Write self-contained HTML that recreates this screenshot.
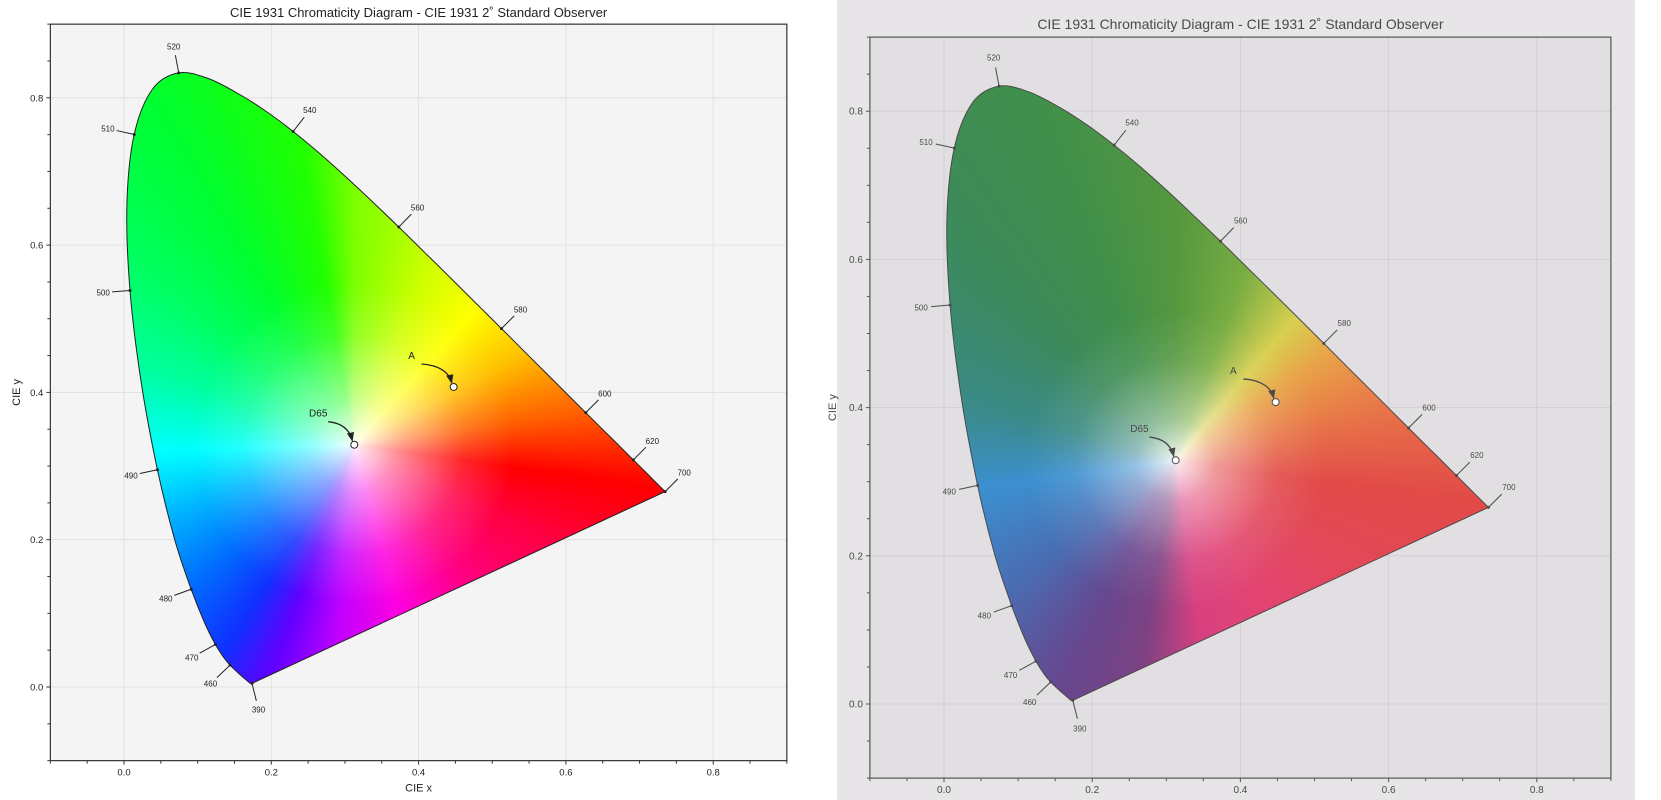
<!DOCTYPE html>
<html><head><meta charset="utf-8">
<style>
html,body{margin:0;padding:0;background:#fff;}
#root{position:relative;width:1661px;height:800px;overflow:hidden;background:#fff;font-family:"Liberation Sans","DejaVu Sans",sans-serif;}
.abs{position:absolute;left:0;top:0;}
</style></head>
<body>
<div id="root">
  <div class="abs" style="left:837px;top:0;width:798px;height:800px;background:#e7e5e7;"></div>
</div>
<script>
// ---- data ----
const wavelengths = [380,390,400,420,430,440,450,460,465,470,475,480,485,490,495,500,505,510,515,520,525,530,535,540,545,550,555,560,565,570,575,580,585,590,595,600,605,610,620,630,640,650,660,680,700];
const locusX = [0.1741,0.1738,0.1733,0.1714,0.1689,0.1644,0.1566,0.1440,0.1355,0.1241,0.1096,0.0913,0.0687,0.0454,0.0235,0.0082,0.0039,0.0139,0.0389,0.0743,0.1142,0.1547,0.1929,0.2296,0.2658,0.3016,0.3373,0.3731,0.4087,0.4441,0.4788,0.5125,0.5448,0.5752,0.6029,0.6270,0.6482,0.6658,0.6915,0.7079,0.7190,0.7260,0.7300,0.7334,0.7347];
const locusY = [0.0050,0.0049,0.0048,0.0051,0.0069,0.0109,0.0177,0.0297,0.0399,0.0578,0.0868,0.1327,0.2007,0.2950,0.4127,0.5384,0.6548,0.7502,0.8120,0.8338,0.8262,0.8059,0.7816,0.7543,0.7243,0.6923,0.6589,0.6245,0.5896,0.5547,0.5202,0.4866,0.4544,0.4242,0.3965,0.3725,0.3514,0.3340,0.3083,0.2920,0.2809,0.2740,0.2700,0.2666,0.2653];
const labelWavelengths = [390,460,470,480,490,500,510,520,540,560,580,600,620,700];
const illumNames = ["D65","A"];
const illumX = [0.3127,0.4476];
const illumY = [0.3290,0.4074];
const xTicks = [0.0,0.2,0.4,0.6,0.8];
const yTicks = [0.0,0.2,0.4,0.6,0.8];
const xTickLabels = ["0.0","0.2","0.4","0.6","0.8"];
const yTickLabels = ["0.0","0.2","0.4","0.6","0.8"];

const NS="http://www.w3.org/2000/svg";
const root=document.getElementById('root');

function panel(c){
  const X=v=>c.ox+v*c.s, Y=v=>c.oy-v*c.s;
  const L=X(-0.1), R=X(0.9), T=Y(0.9), B=Y(-0.1);
  function mkSvg(name){
    const s=document.createElementNS(NS,'svg');
    s.setAttribute('width',1661);s.setAttribute('height',800);
    s.setAttribute('class','abs');
    
    
    s.style.fontFamily='"Liberation Sans","DejaVu Sans",sans-serif';
    root.appendChild(s);return s;
  }
  function el(t,a,p){const e=document.createElementNS(NS,t);for(const k in a)e.setAttribute(k,a[k]);p.appendChild(e);return e;}
  // background + grid layer
  const bgs=mkSvg(c.pre+'plot-area');
  el('rect',{x:L,y:T,width:R-L,height:B-T,fill:c.plotBg},bgs);
  xTicks.forEach(v=>{const g=el('line',{x1:X(v),x2:X(v),y1:T,y2:B,stroke:c.grid,'stroke-width':0.8},bgs);});
  yTicks.forEach(v=>{const g=el('line',{x1:L,x2:R,y1:Y(v),y2:Y(v),stroke:c.grid,'stroke-width':0.8},bgs);});
  // smooth locus path (Catmull-Rom)
  const P=locusX.map((v,i)=>[X(v),Y(locusY[i])]);
  let d='M'+P[0][0].toFixed(1)+' '+P[0][1].toFixed(1);
  for(let i=0;i<P.length-1;i++){
    const p0=P[Math.max(0,i-1)],p1=P[i],p2=P[i+1],p3=P[Math.min(P.length-1,i+2)];
    const c1=[p1[0]+(p2[0]-p0[0])/6,p1[1]+(p2[1]-p0[1])/6];
    const c2=[p2[0]-(p3[0]-p1[0])/6,p2[1]-(p3[1]-p1[1])/6];
    d+=` C${c1[0].toFixed(1)} ${c1[1].toFixed(1)} ${c2[0].toFixed(1)} ${c2[1].toFixed(1)} ${p2[0].toFixed(1)} ${p2[1].toFixed(1)}`;
  }
  d+=' Z';
  const cx=X(illumX[0]), cy=Y(illumY[0]);
  const fill=document.createElement('div');
  fill.className='abs';
  
  
  fill.style.cssText=`width:1661px;height:800px;clip-path:path('${d}');background:radial-gradient(circle at ${cx}px ${cy}px, ${c.white}),conic-gradient(from 0deg at ${cx}px ${cy}px, ${c.stops});${c.filter||''}`;
  root.appendChild(fill);
  const svg=mkSvg(c.pre+'axes-overlay');
  el('defs',{},svg).innerHTML=`<marker id="${c.pre}ah" viewBox="0 0 10 10" refX="9" refY="5" markerWidth="7" markerHeight="7" orient="auto"><path d="M0,1 L10,5 L0,9 Z" fill="${c.ink}"/></marker>`;
  const o=el('path',{d:d,fill:'none',stroke:c.ink,'stroke-width':1},svg);
  
  labelWavelengths.forEach(w=>{
    const i=wavelengths.indexOf(w);
    const a=Math.max(0,i-1), b=Math.min(wavelengths.length-1,i+1);
    let tx=locusX[b]-locusX[a], ty=locusY[b]-locusY[a];
    let nx=ty, ny=-tx;
    const px=locusX[i]-0.33, py=locusY[i]-0.33;
    if(nx*px+ny*py<0){nx=-nx;ny=-ny;}
    const n=Math.hypot(nx,ny); nx/=n; ny/=n;
    const sx=X(locusX[i]), sy=Y(locusY[i]);
    const g=el('g',{},svg);
    
    el('line',{x1:sx,y1:sy,x2:sx+nx*c.tl,y2:sy-ny*c.tl,stroke:c.ink,'stroke-width':1},g);
    el('circle',{cx:sx,cy:sy,r:1.5,fill:c.ink},g);
    const t=el('text',{x:sx+nx*c.ll,y:sy-ny*c.ll+3,'font-size':c.fsSmall,fill:c.ink,'text-anchor':'middle'},g);
    t.textContent=w;
  });
  illumNames.forEach((nm,i)=>{
    const px=X(illumX[i]), py=Y(illumY[i]);
    const g=el('g',{},svg);
    
    const lx=px-c.s*0.049-(nm==='D65'?0:6), ly=py-c.s*0.038;
    const t=el('text',{x:lx,y:ly,'font-size':c.fsAnn,fill:c.ink,'text-anchor':'middle'},g);t.textContent=nm;
    const sx=lx+10, sy=ly+5;
    el('path',{d:`M${sx},${sy} Q${px-6},${sy+2} ${px-2},${py-4}`,fill:'none',stroke:c.ink,'stroke-width':1.3,'marker-end':`url(#${c.pre}ah)`},g);
    el('circle',{cx:px,cy:py,r:3.5,fill:'#fff',stroke:c.ink,'stroke-width':1},g);
  });
  const sp=el('rect',{x:L,y:T,width:R-L,height:B-T,fill:'none',stroke:c.spine,'stroke-width':1.2},svg);
  
  for(let k=-2;k<=18;k++){
    const v=k*0.05; const major=(k%4===0);
    el('line',{x1:X(v),x2:X(v),y1:B,y2:B+(major?4:3),stroke:c.spine,'stroke-width':1},svg);
    el('line',{x1:L,x2:L-(major?4:3),y1:Y(v),y2:Y(v),stroke:c.spine,'stroke-width':1},svg);
  }
  xTicks.forEach((v,i)=>{const t=el('text',{x:X(v),y:B+15,'font-size':c.fsTick,fill:c.ink,'text-anchor':'middle'},svg);t.textContent=xTickLabels[i];});
  yTicks.forEach((v,i)=>{const t=el('text',{x:L-7,y:Y(v)+3.5,'font-size':c.fsTick,fill:c.ink,'text-anchor':'end'},svg);t.textContent=yTickLabels[i];});
  const ti=el('text',{x:(L+R)/2,y:c.titleY,'font-size':c.fsTitle,fill:c.ink,'text-anchor':'middle'},svg);ti.textContent='CIE 1931 Chromaticity Diagram - CIE 1931 2\u02da Standard Observer';
  
  const xl=el('text',{x:(L+R)/2,y:B+31,'font-size':c.fsLab,fill:c.ink,'text-anchor':'middle'},svg);xl.textContent='CIE x';
  const yx=c.yLabX, yy=(T+B)/2;
  const yl=el('text',{x:yx,y:yy,'font-size':c.fsLab,fill:c.ink,'text-anchor':'middle',transform:`rotate(-90 ${yx} ${yy})`},svg);yl.textContent='CIE y';
}

panel({pre:'left-',ox:124,oy:687,s:736.5,plotBg:'#f4f4f4',grid:'#dddddd',ink:'#222',spine:'#333',
  white:'rgba(255,255,255,0.95) 0px, rgba(255,255,255,0.55) 45px, rgba(255,255,255,0.15) 110px, rgba(255,255,255,0) 160px',
  stops:'#7cff00 0deg,#ccff00 22deg,#ffff00 42deg,#ffc000 62deg,#ff6000 82deg,#ff0000 98deg,#ff0040 115deg,#ff0080 140deg,#ff00e0 165deg,#c000ff 185deg,#6000ff 200deg,#1030ff 212deg,#0070ff 230deg,#00b8ff 250deg,#00ffff 268deg,#00ffa0 290deg,#00ff60 310deg,#00ff30 330deg,#20ff00 350deg,#7cff00 360deg',
  tl:18,ll:27,fsSmall:8,fsAnn:10,fsTick:9.5,fsTitle:13,fsLab:11,titleY:17,yLabX:20});
panel({pre:'right-',ox:944,oy:704,s:741,plotBg:'#e2dfe2',grid:'#cfcccf',ink:'#4a4a4a',spine:'#555',
  white:'rgba(255,255,255,0.9) 0px, rgba(255,255,255,0.45) 40px, rgba(255,255,255,0.1) 100px, rgba(255,255,255,0) 150px',
  stops:'#55983f 0deg,#78ad42 20deg,#d8d050 40deg,#e8a448 55deg,#e87848 75deg,#e24a48 98deg,#e24858 120deg,#e24472 150deg,#d84080 172deg,#7a4282 190deg,#664890 208deg,#4a6cb2 232deg,#3c90d0 262deg,#3a8a88 285deg,#3d8a5c 315deg,#41904a 340deg,#55983f 360deg',
  tl:19,ll:29,fsSmall:8,fsAnn:10,fsTick:10,fsTitle:14,fsLab:11,titleY:29,yLabX:836,filter:'filter:blur(0.5px);'});
</script>
</body></html>
